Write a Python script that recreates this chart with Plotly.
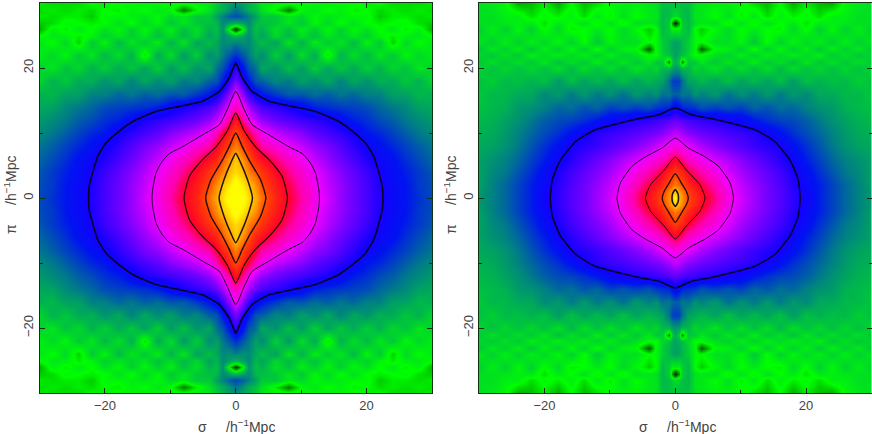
import numpy as np
import plotly.graph_objects as go

# Quadrant values (colour level 0..100); the map is mirrored in both axes.
SIGMA_L = [0,1,2,3,4,6,8,10,12,14,16,18,20,22,24,26,28,30]
PI_L = [0,2,4,6,8,10,12,14,16,18,20,22,24,25,26,27,28,29,30]
Z_L = [
[100,98,94,91,87,80,76,72,67.5,64,60,57,54,51,47,44,41,38],
[98,95,92.5,89,84.5,79,75,71,67,63,60,57,54,50.5,47,44,40,38],
[94,92,88,85,82,77,73,69.5,66,62,59,56,53,50.2,46,43,40,37],
[93,89,85,80,77.5,73.5,70,67,63,60,57,54,51,48,45,41,38,35],
[88,84,80,76,72,69,66,63,60,58,55,52,49,45,42,39,36,33.5],
[84,80,75.5,71,67,63,61,59,56,54,52,49.5,44,42,39,36,33,31],
[78,73,67,63,60,57,55,53.5,52,50.5,47,43,41,38,36,33,31,29],
[71,67,61,57,54.5,52,50,47,43,41,40,39,38,35,33,31,28,27],
[66.5,60,53,48,44,40,36,37,34,36,33,35,32,32,28,28,25,26],
[58,52,44,37,36,31,33,28,31,27,32,27,30,26,27,23,26,21],
[52,45,37,34,27,30,24,29,22,28,23,27,22,26,21,24,19,22],
[41,37,33,28,31,22,29,20,27,14,26,20,25,19,23,17,21,18],
[32,30,31,27,24,28,19,26,18,23,19,25,17,23,13,21,16,19],
[25,28,31,25,28,21,25,20,24,19,22,19,22,17,15,18,19,16],
[2,15,30,24,26,20,24,18,22,17,22,17,20,16,19,15,18,11],
[26,28,31,25,24,23,19,23,17,21,16,20,16,15,16,17,14,13],
[38,36,32,28,23,23,19,21,17,19,18,17,17,13,15,15,14,15],
[34,30,26,24,20,15,8,17,19,16,18,15,16,14,15,14,15,14],
[30,28,26,23,19,18,17,17,17,18,17,17,15,16,14,14,14,15],
]

SIGMA_R = [0,0.5,1,2,3,4,6,8,10,12,14,16,18,20,22,24,26,28,30]
PI_R = [0,1,2,4,6,8,10,12,14,16,18,20,21,22,23,24,26,27,28,30]
Z_R = [
[97,92,89,84,81,78,73,68,64,60.5,57.5,55,52,49,43,39,35,32,29],
[93,90.5,88,83,80,77,72.5,67.5,63.5,60.5,57.5,55,52,48.5,43,39,35,32,29],
[88,86,84.5,80.5,77.5,75.5,71,66.8,63,60,57.5,54.5,51.5,47.5,43,39,35,32,28],
[83,81,80,76,73.5,71.5,68,64.5,61,58.5,56,53.5,50.5,46,41,37,33,31,28],
[76,74.5,73,70,68.5,67,64,61.5,59,56.5,54,51.5,48,43,39,35,32,30,28],
[68,67.5,67,65.5,63.5,61.5,59,57,55,53,51.5,50,45,41,37,33,30,28,27],
[63,62,61,59,58,57,55.5,54,53,51.5,49,45,41,38,35,32,29,27,26],
[56,56,55,54,53,52,51,50,47.5,44,41,39,38,36,33,30,28,26,25],
[48,45,42,41,40,37,39,37,39,35,37,34,35,32,30,29,26,25,24],
[36,35,33,34,30,32,29,34,30,33,29,33,29,31,27,27,25,25,23],
[40,39,34,28,27,25,28,24,28,25,28,24,29,24,26,24,25,22,24],
[29,28,25,25,21,23,19,24,20,24,20,25,20,24,21,24,21,24,21],
[27,22,8,23,23,19,23,19,23,18,23,20,24,19,23,20,23,20,23],
[28,26,24,21,16,17,20,22,18,22,18,21,18,21,18,23,20,23,21],
[28,27,25,22,17,6,17,18,22,16,22,17,22,18,23,18,22,19,23],
[28,27,25,22,17,16,20,20,17,23,16,22,17,21,18,22,18,22,19],
[18,18,22,25,16,13,17,21,16,19,16,15,21,16,22,17,22,18,22],
[2,10,22,25,20,19,20,15,20,15,20,16,19,14,19,18,19,20,20],
[20,22,24,25,19,19,16,20,15,19,14,18,15,17,14,18,18,20,20],
[24,24,24,24,20,19,18,18,17,14,12,16,11,15,12,11,17,19,20],
]

# Contour quadrants as (sigma, pi).
C_L1_S = [22.5,22.4,21.9,21.1,19.8,17.8,15.7,12.2,8.6,5.1,2.5,1.0,0.25,0]
C_L1_P = [0,1.8,3.8,6.4,8.5,10.3,11.8,13.3,14.1,14.9,16.4,18.5,20.3,20.8]
C_L2_S = [12.8,12.7,12.2,11.4,10.2,8.1,5.1,2.5,1.3,0]
C_L2_P = [0,1.3,3.8,5.4,6.8,7.9,9.7,11.3,13.6,16.4]
C_L3_S = [7.9,7.1,5.1,3.0,1.3,0]
C_L3_P = [0,3.3,5.9,7.9,10.3,13.1]
C_L4_S = [4.6,3.8,2.0,1.0,0]
C_L4_P = [0,2.8,5.9,7.9,10.0]
C_L5_S = [2.55,1.8,0.76,0]
C_L5_P = [0,2.8,5.4,6.9]

C_R1_S = [19.1,18.8,18.2,17.5,15.2,12.2,8.6,5.1,2.5,0.76,0]
C_R1_P = [0,2.8,4.4,5.9,8.7,10.5,11.5,12.3,12.8,13.6,13.85]
C_R2_S = [8.9,8.4,6.6,4.6,2.0,0]
C_R2_P = [0,2.3,4.9,6.3,7.7,9.2]
C_R3_S = [4.55,3.8,1.7,0]
C_R3_P = [0,2.0,4.3,6.3]
C_R4_S = [2.0,1.7,1.0,0]
C_R4_P = [0,1.0,2.2,3.75]
C_R5_S = [0.5,0.4,0]
C_R5_P = [0,0.7,1.3]

X_TICKS = [-20, 0, 20]
TICK_TEXT = ["\u221220", "0", "20"]
X_TITLE = "\u03c3     /h<sup>\u22121</sup>Mpc"
Y_TITLE = "\u03c0     /h<sup>\u22121</sup>Mpc"

COLORS = [
    [0.00, "rgb(0,10,0)"],
    [0.08, "rgb(0,120,0)"],
    [0.16, "rgb(0,255,0)"],
    [0.32, "rgb(0,130,130)"],
    [0.44, "rgb(0,20,240)"],
    [0.50, "rgb(20,0,255)"],
    [0.58, "rgb(120,0,255)"],
    [0.66, "rgb(240,0,255)"],
    [0.72, "rgb(255,0,170)"],
    [0.76, "rgb(255,0,40)"],
    [0.84, "rgb(255,70,0)"],
    [0.92, "rgb(255,190,0)"],
    [0.96, "rgb(255,250,0)"],
    [1.00, "rgb(255,255,0)"],
]


def mirror_axis(v):
    v = np.asarray(v, float)
    return np.concatenate([-v[:0:-1], v])


def mirror_grid(z):
    z = np.asarray(z, float)
    z = np.hstack([z[:, :0:-1], z])
    return np.vstack([z[:0:-1], z])


def closed(s, p):
    s = np.asarray(s, float)
    p = np.asarray(p, float)
    xs = np.concatenate([s, -s[-2::-1], -s[1:], s[-2::-1]])
    ys = np.concatenate([p, p[-2::-1], -p[1:], -p[-2::-1]])
    return xs, ys


fig = go.Figure()
for xa, ya, sg, pi, zz in (("x", "y", SIGMA_L, PI_L, Z_L), ("x2", "y2", SIGMA_R, PI_R, Z_R)):
    fig.add_trace(go.Heatmap(x=mirror_axis(sg), y=mirror_axis(pi), z=mirror_grid(zz),
                             zmin=0, zmax=100, zsmooth="best", colorscale=COLORS,
                             showscale=False, xaxis=xa, yaxis=ya, hoverinfo="skip"))

LINES = [
    ("x", "y", C_L1_S, C_L1_P, 1.6), ("x", "y", C_L2_S, C_L2_P, 1.0), ("x", "y", C_L3_S, C_L3_P, 1.2),
    ("x", "y", C_L4_S, C_L4_P, 1.4), ("x", "y", C_L5_S, C_L5_P, 1.5),
    ("x2", "y2", C_R1_S, C_R1_P, 1.5), ("x2", "y2", C_R2_S, C_R2_P, 1.0), ("x2", "y2", C_R3_S, C_R3_P, 1.0),
    ("x2", "y2", C_R4_S, C_R4_P, 1.3), ("x2", "y2", C_R5_S, C_R5_P, 1.6),
]
for xa, ya, s, p, w in LINES:
    xs, ys = closed(s, p)
    fig.add_trace(go.Scatter(x=xs, y=ys, mode="lines", xaxis=xa, yaxis=ya, showlegend=False,
                             line=dict(color="rgba(10,0,15,0.9)", width=w, shape="spline", smoothing=0.55),
                             hoverinfo="skip"))

W, H = 872, 434
ydom = [(H - 393) / H, (H - 3) / H]
axis = dict(range=[-30, 30], tickmode="array", tickvals=X_TICKS, ticktext=TICK_TEXT,
            ticks="inside", ticklen=5, tickwidth=1, tickcolor="#113311",
            showline=True, linecolor="#113311", linewidth=1, mirror="allticks",
            showgrid=False, zeroline=False, automargin=False,
            minor=dict(tickmode="array", tickvals=[-10, 10], ticks="inside", ticklen=3,
                       tickwidth=1, tickcolor="#113311", showgrid=False),
            tickfont=dict(family="Liberation Sans", size=13, color="#444444"))
tfont = dict(family="Liberation Sans", size=14, color="#444444")


def title_note(text, px, py, angle):
    return dict(text=text, x=px / W, y=1 - py / H, xref="paper", yref="paper", showarrow=False,
                xanchor="center", yanchor="middle", textangle=angle, font=tfont)


fig.update_layout(
    width=W, height=H, autosize=False, margin=dict(l=0, r=0, t=0, b=0),
    paper_bgcolor="white", plot_bgcolor="white", showlegend=False,
    xaxis=dict(axis, domain=[39.5 / W, 432 / W], anchor="y"),
    yaxis=dict(axis, domain=ydom, anchor="x", tickangle=-90),
    xaxis2=dict(axis, domain=[479 / W, 871.5 / W], anchor="y2"),
    yaxis2=dict(axis, domain=ydom, anchor="x2", tickangle=-90),
    annotations=[
        title_note(X_TITLE, 236, 426, 0),
        title_note(X_TITLE, 677, 426, 0),
        title_note(Y_TITLE, 10, 195, -90),
        title_note(Y_TITLE, 450, 195, -90),
    ],
)
fig.write_html("out.html", config={"displayModeBar": False},
               post_script="document.body.style.margin='0';document.documentElement.style.overflow='hidden';")
